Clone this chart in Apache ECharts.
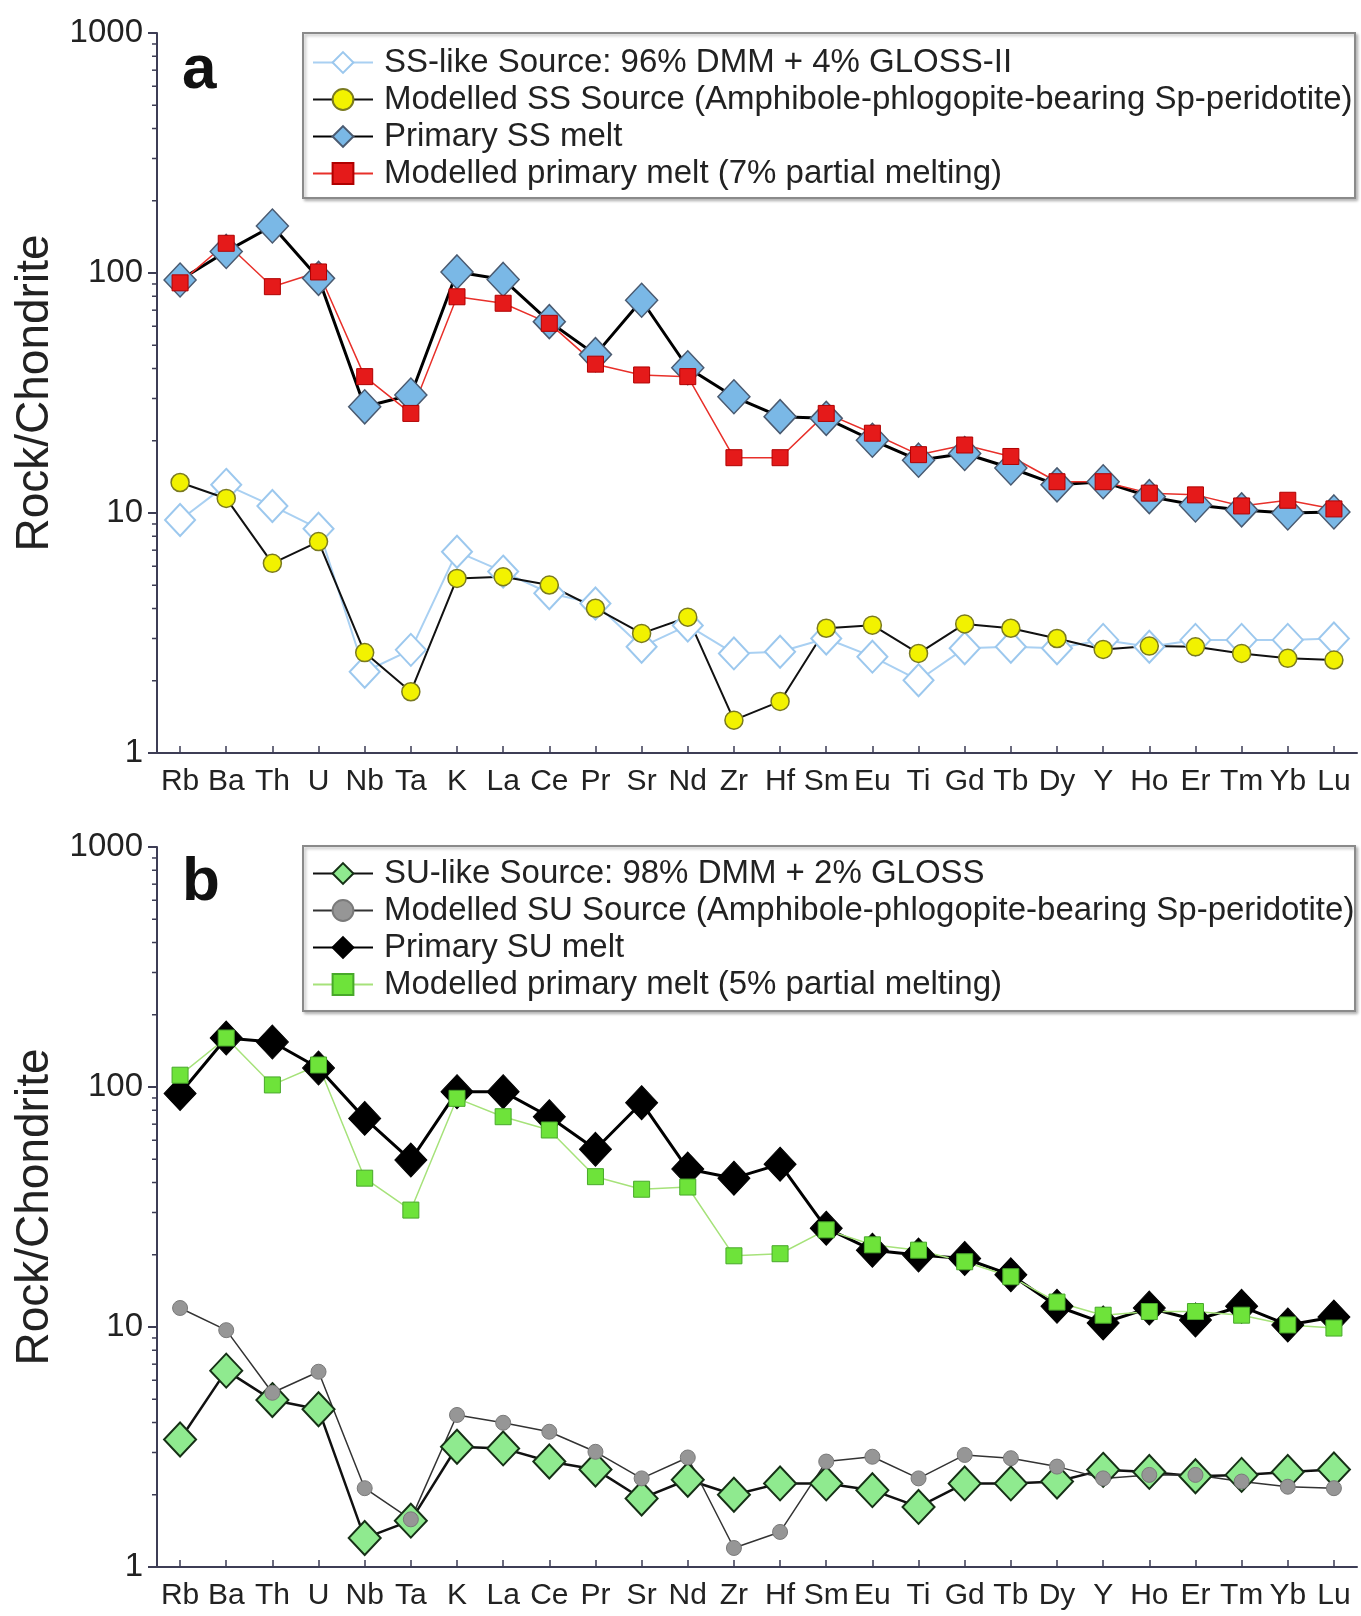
<!DOCTYPE html>
<html><head><meta charset="utf-8">
<script src="https://cdn.jsdelivr.net/npm/echarts@6/dist/echarts.min.js"></script>
<style>html,body{margin:0;padding:0;background:#fff}#c{width:1361px;height:1616px}</style>
</head><body><div id="c"></div>
<script>
const elements = ['Rb','Ba','Th','U','Nb','Ta','K','La','Ce','Pr','Sr','Nd','Zr','Hf','Sm','Eu','Ti','Gd','Tb','Dy','Y','Ho','Er','Tm','Yb','Lu'];
const minorTickValues = [2,3,4,5,6,7,8,9,20,30,40,50,60,70,80,90,200,300,400,500,600,700,800,900];

// Panel a
const ssLikeSource     = [9.35,13.1,10.7,8.6,2.18,2.69,6.9,5.7,4.63,4.2,2.77,3.4,2.6,2.64,3.0,2.52,2.01,2.73,2.77,2.73,2.96,2.77,2.96,2.96,2.96,3.0];
const modelledSSSource = [13.4,11.5,6.17,7.6,2.62,1.80,5.34,5.43,5.01,4.01,3.15,3.68,1.37,1.64,3.31,3.41,2.60,3.45,3.31,3.0,2.70,2.79,2.77,2.60,2.48,2.44];
const primarySSMelt    = [93.5,123,157,95,27.7,31,101,94,62.7,45.7,77,40.3,30.5,25.2,24.8,20.1,16.6,17.7,15.4,13.1,13.5,11.7,10.8,10.3,10.0,10.1];
const modelledMelt7    = [91,133,87.7,101,37,26,79.6,74.8,61.7,41.7,37.6,37,17.0,17.0,26,21.5,17.5,19.2,17.2,13.5,13.5,12.1,11.9,10.7,11.3,10.4];

// Panel b
const suLikeSource      = [3.4,6.58,4.96,4.54,1.32,1.56,3.17,3.12,2.75,2.55,1.93,2.31,2.0,2.23,2.23,2.09,1.78,2.23,2.23,2.27,2.54,2.49,2.39,2.42,2.49,2.55];
const modelledSUSource  = [12,9.7,5.32,6.51,2.13,1.58,4.3,3.99,3.66,3.02,2.34,2.86,1.2,1.40,2.75,2.88,2.34,2.93,2.84,2.62,2.34,2.42,2.42,2.27,2.16,2.13];
const primarySUMelt     = [94,160,154,120,74,49.6,95.6,95.6,75.2,55,86,45.5,41.7,47.7,25.8,20.9,19.95,19.3,16.5,12.2,10.4,12.0,10.7,12.2,10.2,11.0];
const modelledMelt5     = [112,160,102,123.5,41.7,30.7,89.7,75.2,66.2,42.3,37.5,38.3,19.8,20.2,25.4,22,20.9,18.7,16.2,12.7,11.2,11.6,11.6,11.2,10.2,9.9];

const namesA = ['SS-like Source: 96% DMM + 4% GLOSS-II','Modelled SS Source (Amphibole-phlogopite-bearing Sp-peridotite)','Primary SS melt','Modelled primary melt (7% partial melting)'];
const namesB = ['SU-like Source: 98% DMM + 2% GLOSS','Modelled SU Source (Amphibole-phlogopite-bearing Sp-peridotite)','Primary SU melt','Modelled primary melt (5% partial melting)'];

const FONT = 'Liberation Sans, Arial, Helvetica, sans-serif';
const axisColor = '#3d3d55';

function xAxisCfg(gi){
  return {type:'category', gridIndex:gi, data:elements, boundaryGap:true,
    axisLine:{show:true, lineStyle:{color:axisColor, width:2}},
    axisTick:{show:true, alignWithLabel:true, inside:true, length:7, interval:0, lineStyle:{color:axisColor, width:1.5}},
    axisLabel:{interval:0, fontSize:30, margin:14, color:'#222', fontFamily:FONT},
    splitLine:{show:false}};
}
function yAxisCfg(gi){
  return {type:'log', logBase:10, min:1, max:1000, gridIndex:gi,
    axisLine:{show:true, lineStyle:{color:axisColor, width:2}},
    axisTick:{show:true, length:9, lineStyle:{color:axisColor, width:2}},
    axisLabel:{fontSize:33, margin:14, color:'#222', fontFamily:FONT, formatter:(v) => String(Math.round(v))},
    splitLine:{show:false},
    name:'Rock/Chondrite', nameLocation:'middle', nameGap:94,
    nameTextStyle:{fontSize:46, color:'#222', fontFamily:FONT}};
}
function minorTicks(gi){
  return {type:'custom', xAxisIndex:gi, yAxisIndex:gi, silent:true, z:1,
    data: minorTickValues.map(v => [elements[0], v]),
    renderItem(params, api){
      const p = api.coord([api.value(0), api.value(1)]);
      const x0 = params.coordSys.x;
      return {type:'line', shape:{x1:x0-5, y1:p[1], x2:x0, y2:p[1]}, style:{stroke:axisColor, lineWidth:1.5}};
    }};
}
function lineSeries(name, gi, data, symbol, size, itemStyle, lineStyle){
  return {type:'line', name, xAxisIndex:gi, yAxisIndex:gi, data, symbol, symbolSize:size,
    showSymbol:true, showAllSymbol:true, itemStyle, lineStyle, emphasis:{disabled:true}, z:2};
}

const legendCommon = {orient:'vertical', left:312, itemWidth:60, itemHeight:26, itemGap:0, padding:0,
  selectedMode:false, textStyle:{fontSize:33, color:'#222', lineHeight:37, fontFamily:FONT, padding:[0,0,0,6]}};

const option = {
  animation:false,
  backgroundColor:'#fff',
  grid:[
    {left:157, right:4, top:33, height:720},
    {left:157, right:4, top:847, height:720}
  ],
  xAxis:[xAxisCfg(0), xAxisCfg(1)],
  yAxis:[yAxisCfg(0), yAxisCfg(1)],
  legend:[
    Object.assign({}, legendCommon, {data:namesA, top:44}),
    Object.assign({}, legendCommon, {data:namesB, top:855})
  ],
  graphic:[
    {type:'rect', shape:{x:303, y:33, width:1052, height:165}, style:{fill:'#fff', stroke:'#8a8a8a', lineWidth:2, shadowBlur:3, shadowOffsetX:2, shadowOffsetY:2, shadowColor:'rgba(0,0,0,0.25)'}, z:-1},
    {type:'rect', shape:{x:303, y:846, width:1052, height:165}, style:{fill:'#fff', stroke:'#8a8a8a', lineWidth:2, shadowBlur:3, shadowOffsetX:2, shadowOffsetY:2, shadowColor:'rgba(0,0,0,0.25)'}, z:-1},
    {type:'text', left:182, top:40, style:{text:'a', font:'bold 62px '+FONT, fill:'#111'}},
    {type:'text', left:182, top:852, style:{text:'b', font:'bold 62px '+FONT, fill:'#111'}}
  ],
  series:[
    minorTicks(0), minorTicks(1),
    lineSeries(namesA[0], 0, ssLikeSource, 'diamond', [30,32], {color:'#ffffff', borderColor:'#9cc8ee', borderWidth:2}, {color:'#a9d0f2', width:2}),
    lineSeries(namesA[1], 0, modelledSSSource, 'circle', 18, {color:'#f2f200', borderColor:'#7a7a20', borderWidth:1.5}, {color:'#111', width:2}),
    lineSeries(namesA[2], 0, primarySSMelt, 'diamond', [32,34], {color:'#7ab8e6', borderColor:'#4a5a70', borderWidth:1.5}, {color:'#000', width:3}),
    lineSeries(namesA[3], 0, modelledMelt7, 'rect', 16, {color:'#e51a1a', borderColor:'#b00000', borderWidth:1}, {color:'#e8302a', width:1.5}),
    lineSeries(namesB[0], 1, suLikeSource, 'diamond', [32,34], {color:'#8fea8f', borderColor:'#163016', borderWidth:2}, {color:'#111', width:2.5}),
    lineSeries(namesB[1], 1, modelledSUSource, 'circle', 15, {color:'#969696', borderColor:'#7a7a7a', borderWidth:1}, {color:'#333', width:1.5}),
    lineSeries(namesB[2], 1, primarySUMelt, 'diamond', [32,34], {color:'#000', borderColor:'#000', borderWidth:1}, {color:'#000', width:3}),
    lineSeries(namesB[3], 1, modelledMelt5, 'rect', 16, {color:'#6ee33a', borderColor:'#48a82a', borderWidth:1}, {color:'#a6e27a', width:1.5})
  ]
};
const chart = echarts.init(document.getElementById('c'), null, {renderer:'canvas'});
chart.setOption(option);
</script>
</body></html>
